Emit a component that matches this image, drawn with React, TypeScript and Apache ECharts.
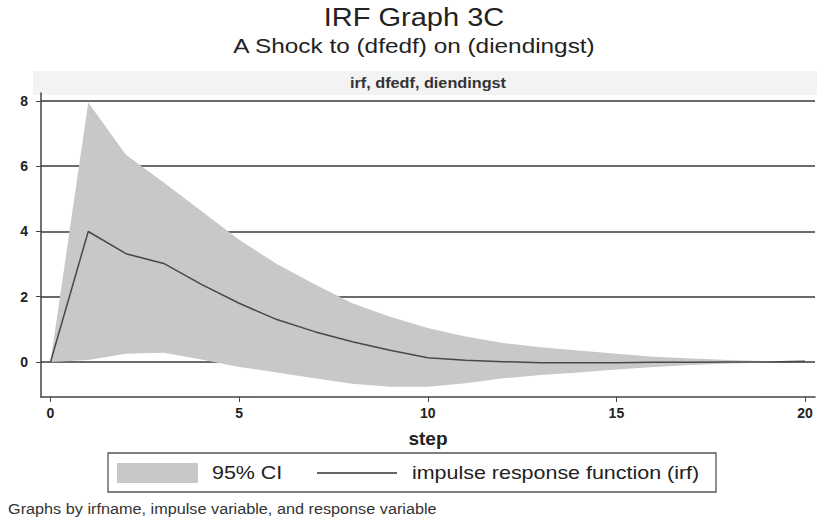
import React, { useEffect, useRef } from "react";
import * as echarts from "echarts";

// ---- data ----
const steps = [0, 1, 2, 3, 4, 5, 6, 7, 8, 9, 10, 11, 12, 13, 14, 15, 16, 17, 18, 19, 20];
const irf = [0, 4.0, 3.32, 3.02, 2.38, 1.8, 1.3, 0.93, 0.62, 0.36, 0.13, 0.05, 0.01, -0.02, -0.02, -0.02, -0.01, -0.01, 0, 0, 0.02];
const ciUpper = [0, 7.95, 6.35, 5.5, 4.63, 3.75, 3.0, 2.38, 1.8, 1.39, 1.04, 0.78, 0.58, 0.45, 0.35, 0.25, 0.16, 0.11, 0.06, 0.03, 0.02];
const ciLower = [0, 0.06, 0.25, 0.28, 0.08, -0.15, -0.32, -0.5, -0.67, -0.76, -0.76, -0.65, -0.5, -0.4, -0.32, -0.23, -0.15, -0.09, -0.05, -0.02, 0.02];
const xTicks = [0, 5, 10, 15, 20];
const yTicks = [0, 2, 4, 6, 8];

const titleText = "IRF Graph 3C";
const subtitleText = "A Shock to (dfedf) on (diendingst)";
const stripText = "irf, dfedf, diendingst";
const xName = "step";
const legendCI = "95% CI";
const legendIRF = "impulse response function (irf)";
const noteText = "Graphs by irfname, impulse variable, and response variable";

export default function App() {
  const ref = useRef<HTMLDivElement>(null);

  useEffect(() => {
    if (!ref.current) return;
    const chart = echarts.init(ref.current, null, { renderer: "svg" });
    const font = "'Liberation Sans', Arial, Helvetica, sans-serif";
    const S = 1.16;
    const band = "#c8c8c8";

    const ciData = steps.map((s, i) => [s, ciLower[i], ciUpper[i]]);
    const irfData = steps.map((s, i) => [s, irf[i]]);

    const txt = (
      text: string,
      x: number,
      y: number,
      size: number,
      align: string,
      weight: string = "normal",
      fill: string = "#222"
    ) => ({
      type: "text",
      x,
      y,
      scaleX: S,
      silent: true,
      style: {
        text,
        fontSize: size,
        fontFamily: font,
        fontWeight: weight,
        fill,
        align,
        verticalAlign: "middle",
        textAlign: align,
        textVerticalAlign: "middle",
      },
    });

    chart.setOption({
      animation: false,
      backgroundColor: "#ffffff",
      grid: { left: 41, right: 2, top: 93, bottom: 124, containLabel: false },
      xAxis: {
        type: "value",
        min: -0.252,
        max: 20.265,
        name: xName,
        nameLocation: "middle",
        nameGap: 32,
        nameTextStyle: { fontSize: 19, fontWeight: "bold", color: "#222", fontFamily: font },
        axisLine: { show: true, onZero: false, lineStyle: { color: "#444", width: 1.5 } },
        axisTick: { show: true, customValues: xTicks, length: 5, lineStyle: { color: "#444", width: 1 } },
        axisLabel: { customValues: xTicks, margin: 9, fontSize: 14, fontWeight: "bold", color: "#222", fontFamily: font },
        splitLine: { show: false },
      },
      yAxis: {
        type: "value",
        min: -1.073,
        max: 8.245,
        axisLine: { show: true, onZero: false, lineStyle: { color: "#444", width: 1.5 } },
        axisTick: { show: true, customValues: yTicks, length: 5, lineStyle: { color: "#444", width: 1 } },
        axisLabel: { customValues: yTicks, margin: 13, fontSize: 14, fontWeight: "bold", color: "#222", fontFamily: font },
        splitLine: { show: false },
      },
      series: [
        {
          name: legendCI,
          type: "custom",
          data: ciData,
          encode: { x: 0, y: [1, 2] },
          z: 2,
          silent: true,
          clip: true,
          renderItem: (params: any, api: any) => {
            if (params.dataIndex !== 0) return null;
            const pts: number[][] = [];
            for (let i = 0; i < ciData.length; i++) pts.push(api.coord([ciData[i][0], ciData[i][2]]));
            for (let i = ciData.length - 1; i >= 0; i--) pts.push(api.coord([ciData[i][0], ciData[i][1]]));
            return { type: "polygon", shape: { points: pts }, style: { fill: band } };
          },
        },
        {
          name: legendIRF,
          type: "line",
          data: irfData,
          symbol: "none",
          lineStyle: { color: "#484848", width: 1.5 },
          z: 3,
          silent: true,
          markLine: {
            silent: true,
            symbol: "none",
            z: 1,
            label: { show: false },
            lineStyle: { color: "#3a3a3a", width: 1.5, type: "solid" },
            data: yTicks.map((v) => ({ yAxis: v })),
          },
        },
      ],
      graphic: [
        { type: "rect", silent: true, shape: { x: 33, y: 71, width: 784, height: 24 }, style: { fill: "#f3f3f3" }, z: 0 },
        txt(titleText, 414, 17, 25, "center", "normal", "#222"),
        txt(subtitleText, 414, 46, 21, "center", "normal", "#222"),
        txt(stripText, 428, 83, 14, "center", "bold", "#333"),
        { type: "rect", silent: true, shape: { x: 108, y: 453, width: 608, height: 39 }, style: { fill: "#fff", stroke: "#555", lineWidth: 1.3 } },
        { type: "rect", silent: true, shape: { x: 117, y: 463, width: 81, height: 20 }, style: { fill: band } },
        txt(legendCI, 212, 473, 18.5, "left", "normal", "#222"),
        { type: "line", silent: true, shape: { x1: 317, y1: 473, x2: 397, y2: 473 }, style: { stroke: "#333", lineWidth: 1.3 } },
        txt(legendIRF, 412, 473, 18.5, "left", "normal", "#222"),
        txt(noteText, 8, 509, 14, "left", "normal", "#333"),
      ],
    });

    return () => chart.dispose();
  }, []);

  return (
    <div
      ref={ref}
      style={{ position: "fixed", left: 0, top: 0, width: 817, height: 521, background: "#fff" }}
    />
  );
}
